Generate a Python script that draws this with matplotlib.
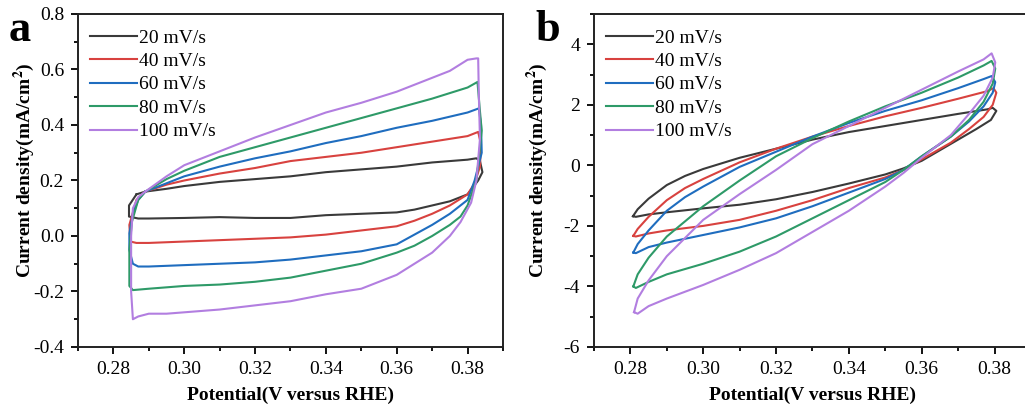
import matplotlib
matplotlib.use("Agg")
import matplotlib.pyplot as plt
from matplotlib.ticker import MultipleLocator, FormatStrFormatter

plt.rcParams['font.family'] = ['Liberation Serif', 'DejaVu Serif']
plt.rcParams['mathtext.fontset'] = 'stix'

labels = ["20 mV/s", "40 mV/s", "60 mV/s", "80 mV/s", "100 mV/s"]
colors = ["#3a3a3a", "#d8423f", "#1f6dbf", "#2e9a68", "#b27ee0"]

# ---------- Panel a (closed CV loops) ----------
a20_x = [0.2865, 0.289, 0.295, 0.30, 0.31, 0.32, 0.33, 0.34, 0.35, 0.36, 0.37, 0.38, 0.3825,
         0.3835, 0.3842, 0.383, 0.38, 0.375, 0.37, 0.365, 0.36, 0.35, 0.34, 0.33, 0.32, 0.31,
         0.30, 0.29, 0.287, 0.2844, 0.2844, 0.2865]
a20_y = [0.15, 0.16, 0.17, 0.18, 0.195, 0.205, 0.215, 0.23, 0.24, 0.25, 0.265, 0.275, 0.28,
         0.27, 0.23, 0.20, 0.15, 0.125, 0.11, 0.095, 0.085, 0.08, 0.075, 0.065, 0.065, 0.068,
         0.065, 0.063, 0.063, 0.07, 0.11, 0.15]

a40_x = [0.289, 0.295, 0.30, 0.31, 0.32, 0.33, 0.34, 0.35, 0.36, 0.37, 0.38, 0.383,
         0.3838, 0.3835, 0.382, 0.38, 0.375, 0.37, 0.365, 0.36, 0.35, 0.34, 0.33, 0.32, 0.31,
         0.30, 0.29, 0.2865, 0.2848, 0.2845, 0.2865, 0.289]
a40_y = [0.16, 0.185, 0.20, 0.225, 0.245, 0.27, 0.285, 0.30, 0.32, 0.34, 0.36, 0.375,
         0.33, 0.25, 0.19, 0.15, 0.11, 0.08, 0.055, 0.035, 0.02, 0.005, -0.005, -0.01, -0.015,
         -0.02, -0.025, -0.025, -0.02, 0.04, 0.13, 0.16]

a60_x = [0.289, 0.295, 0.30, 0.31, 0.32, 0.33, 0.34, 0.35, 0.36, 0.37, 0.38, 0.3832,
         0.3838, 0.384, 0.382, 0.38, 0.375, 0.37, 0.365, 0.36, 0.35, 0.34, 0.33, 0.32, 0.31,
         0.30, 0.29, 0.287, 0.2855, 0.2845, 0.2845, 0.2855, 0.287, 0.289]
a60_y = [0.16, 0.19, 0.215, 0.25, 0.28, 0.305, 0.335, 0.36, 0.39, 0.415, 0.445, 0.46,
         0.40, 0.30, 0.20, 0.13, 0.08, 0.04, 0.005, -0.03, -0.055, -0.07, -0.085, -0.095, -0.10,
         -0.105, -0.11, -0.11, -0.10, -0.05, 0.01, 0.08, 0.13, 0.16]

a80_x = [0.289, 0.295, 0.30, 0.31, 0.32, 0.33, 0.34, 0.35, 0.36, 0.37, 0.38, 0.3828,
         0.3835, 0.384, 0.3825, 0.38, 0.378, 0.375, 0.37, 0.365, 0.36, 0.35, 0.34, 0.33, 0.32,
         0.31, 0.30, 0.29, 0.2855, 0.2845, 0.2845, 0.2852, 0.287, 0.289]
a80_y = [0.16, 0.205, 0.235, 0.285, 0.32, 0.355, 0.39, 0.425, 0.46, 0.495, 0.535, 0.555,
         0.45, 0.38, 0.20, 0.11, 0.07, 0.04, 0.0, -0.035, -0.06, -0.10, -0.125, -0.15, -0.165,
         -0.175, -0.18, -0.19, -0.195, -0.18, -0.05, 0.05, 0.13, 0.16]

a100_x = [0.289, 0.295, 0.30, 0.31, 0.32, 0.33, 0.34, 0.35, 0.36, 0.37, 0.375, 0.38, 0.3825, 0.383,
          0.3832, 0.3835, 0.3825, 0.381, 0.378, 0.375, 0.37, 0.365, 0.36, 0.355, 0.35, 0.34, 0.33,
          0.32, 0.31, 0.30, 0.295, 0.29, 0.287, 0.2855, 0.285, 0.285, 0.2855, 0.287, 0.289]
a100_y = [0.16, 0.215, 0.255, 0.305, 0.355, 0.40, 0.445, 0.48, 0.52, 0.57, 0.595, 0.635, 0.64, 0.64,
          0.50, 0.35, 0.20, 0.12, 0.05, 0.0, -0.06, -0.10, -0.14, -0.165, -0.19, -0.21, -0.235,
          -0.25, -0.265, -0.275, -0.28, -0.28, -0.29, -0.30, -0.20, 0.0, 0.10, 0.14, 0.16]

# ---------- Panel b (closed CV loops) ----------
b20_x = [0.2807, 0.282, 0.285, 0.29, 0.295, 0.30, 0.31, 0.32, 0.33, 0.34, 0.35, 0.36, 0.37, 0.378,
         0.3795, 0.3805, 0.379, 0.375, 0.37, 0.365, 0.36, 0.355, 0.35, 0.34, 0.33, 0.32, 0.31,
         0.30, 0.29, 0.285, 0.2815, 0.2807]
b20_y = [-1.68, -1.45, -1.10, -0.65, -0.35, -0.12, 0.25, 0.55, 0.85, 1.10, 1.30, 1.50, 1.70, 1.85,
         1.90, 1.80, 1.50, 1.20, 0.85, 0.50, 0.15, -0.10, -0.30, -0.60, -0.88, -1.12, -1.30,
         -1.42, -1.55, -1.62, -1.70, -1.68]

b40_x = [0.2808, 0.282, 0.285, 0.29, 0.295, 0.30, 0.31, 0.32, 0.33, 0.34, 0.35, 0.36, 0.37, 0.378,
         0.3797, 0.3805, 0.3795, 0.377, 0.373, 0.368, 0.36, 0.355, 0.35, 0.34, 0.33, 0.32, 0.31,
         0.30, 0.29, 0.285, 0.2815, 0.2808]
b40_y = [-2.33, -2.10, -1.70, -1.15, -0.75, -0.45, 0.10, 0.55, 0.95, 1.30, 1.62, 1.90, 2.20, 2.45,
         2.55, 2.40, 2.00, 1.60, 1.20, 0.75, 0.20, -0.15, -0.40, -0.75, -1.15, -1.50, -1.80,
         -2.00, -2.15, -2.25, -2.35, -2.33]

b60_x = [0.2808, 0.282, 0.285, 0.29, 0.295, 0.30, 0.31, 0.32, 0.33, 0.34, 0.35, 0.36, 0.37, 0.377,
         0.3792, 0.3802, 0.3795, 0.377, 0.373, 0.368, 0.36, 0.355, 0.35, 0.34, 0.33, 0.32, 0.31,
         0.30, 0.29, 0.285, 0.2815, 0.2808]
b60_y = [-2.88, -2.60, -2.15, -1.50, -1.05, -0.70, -0.05, 0.45, 0.95, 1.40, 1.80, 2.15, 2.55, 2.85,
         2.95, 2.75, 2.40, 1.95, 1.45, 0.95, 0.30, -0.15, -0.45, -0.90, -1.35, -1.75, -2.05,
         -2.30, -2.55, -2.70, -2.90, -2.88]

b80_x = [0.2808, 0.282, 0.285, 0.29, 0.295, 0.30, 0.31, 0.32, 0.33, 0.34, 0.35, 0.36, 0.37, 0.377,
         0.3792, 0.3802, 0.3795, 0.377, 0.373, 0.368, 0.36, 0.355, 0.35, 0.34, 0.33, 0.32, 0.31,
         0.30, 0.29, 0.285, 0.2815, 0.2808]
b80_y = [-4.00, -3.60, -3.05, -2.35, -1.85, -1.35, -0.50, 0.30, 0.90, 1.45, 1.95, 2.40, 2.90, 3.30,
         3.45, 3.20, 2.70, 2.10, 1.50, 0.95, 0.30, -0.15, -0.55, -1.15, -1.75, -2.35, -2.85,
         -3.25, -3.60, -3.85, -4.05, -4.00]

b100_x = [0.2810, 0.282, 0.285, 0.29, 0.295, 0.30, 0.31, 0.32, 0.33, 0.34, 0.35, 0.36, 0.37, 0.377,
          0.3792, 0.3802, 0.3795, 0.377, 0.373, 0.368, 0.36, 0.355, 0.35, 0.34, 0.33, 0.32, 0.31,
          0.30, 0.29, 0.285, 0.282, 0.2810]
b100_y = [-4.85, -4.40, -3.80, -3.00, -2.40, -1.80, -0.95, -0.15, 0.70, 1.30, 1.90, 2.50, 3.10, 3.50,
          3.70, 3.40, 2.90, 2.30, 1.70, 1.00, 0.25, -0.25, -0.70, -1.50, -2.20, -2.90, -3.45,
          -3.95, -4.40, -4.65, -4.90, -4.85]

panel_a = [(a20_x, a20_y), (a40_x, a40_y), (a60_x, a60_y), (a80_x, a80_y), (a100_x, a100_y)]
panel_b = [(b20_x, b20_y), (b40_x, b40_y), (b60_x, b60_y), (b80_x, b80_y), (b100_x, b100_y)]

fig = plt.figure(figsize=(10.25, 4.09), dpi=100)
ax_a = fig.add_axes([0.0761, 0.1516, 0.4146, 0.8142])
ax_b = fig.add_axes([0.5795, 0.1516, 0.4263, 0.8142])

def style(ax, ylim, ymaj, ymin, yfmt, ylab_x):
    ax.set_xlim(0.27, 0.39)
    ax.set_ylim(*ylim)
    ax.xaxis.set_major_locator(MultipleLocator(0.02))
    ax.xaxis.set_minor_locator(MultipleLocator(0.01))
    ax.xaxis.set_major_formatter(FormatStrFormatter('%.2f'))
    ax.yaxis.set_major_locator(MultipleLocator(ymaj))
    ax.yaxis.set_minor_locator(MultipleLocator(ymin))
    ax.yaxis.set_major_formatter(FormatStrFormatter(yfmt))
    ax.tick_params(which='both', direction='out', top=False, right=False, width=1.3)
    ax.tick_params(which='major', length=5, labelsize=14, pad=5)
    ax.tick_params(which='minor', length=3)
    for s in ax.spines.values():
        s.set_linewidth(1.4)
        s.set_color('#222222')
    ax.set_xlabel('Potential(V versus RHE)', fontsize=14, fontweight='bold', labelpad=6)
    ax.set_ylabel('Current density(mA/cm$^\\mathbf{2}$)', fontsize=14, fontweight='bold')
    ax.yaxis.set_label_coords(ylab_x, 0.53)

for (x, y), c, l in zip(panel_a, colors, labels):
    ax_a.plot(x, y, color=c, lw=1.5, label=l)
for (x, y), c, l in zip(panel_b, colors, labels):
    ax_b.plot(x, y, color=c, lw=1.5, label=l)

style(ax_a, (-0.4, 0.8), 0.2, 0.1, '%.1f', -0.097)
style(ax_b, (-6, 5), 2, 1, '%d', -0.1)

for ax in (ax_a, ax_b):
    ax.legend(loc='upper left', frameon=False, fontsize=14, handlelength=2.45,
              handletextpad=0.1, labelspacing=0.3, borderaxespad=0.2,
              bbox_to_anchor=(0.0, 0.99))

fig.text(0.008, 0.90, 'a', fontsize=32, fontweight='bold')
fig.text(0.522, 0.90, 'b', fontsize=32, fontweight='bold')

fig.savefig('out.png', dpi=100)
